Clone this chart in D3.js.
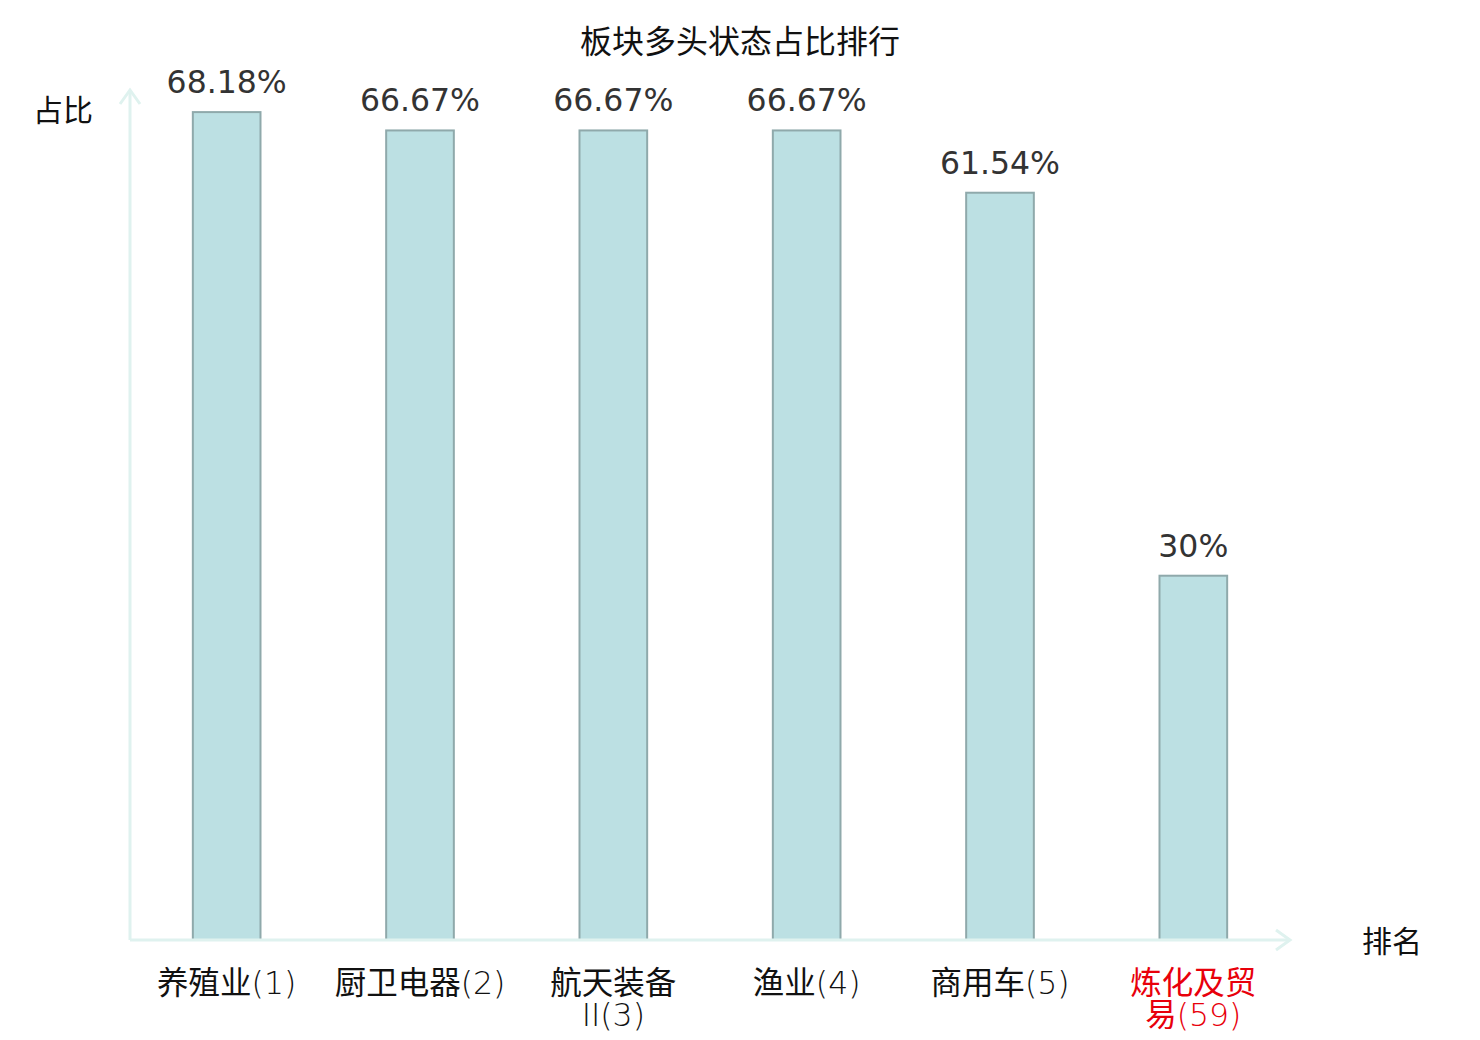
<!DOCTYPE html>
<html>
<head>
<meta charset="utf-8">
<script src="https://cdn.jsdelivr.net/npm/d3@7"></script>
<style>
  body { margin: 0; background: #fff; }
  svg { display: block; }
</style>
</head>
<body>
<svg id="chart" width="1480" height="1040"></svg>
<script>
// data
const categories = ["养殖业(1)", "厨卫电器(2)", "航天装备II(3)", "渔业(4)", "商用车(5)", "炼化及贸易(59)"];
const values = [68.18, 66.67, 66.67, 66.67, 61.54, 30];
const valueLabels = ["68.18%", "66.67%", "66.67%", "66.67%", "61.54%", "30%"];
const highlight = ["炼化及贸易(59)"];

const svg = d3.select("#chart");
const cjk = "'Noto Sans CJK SC', 'DejaVu Sans', sans-serif";
const latin = "'DejaVu Sans', sans-serif";
const axisColor = "#dff2ef";
const labelSize = "31.5px";

const x = d3.scaleBand().domain(categories).range([130, 1290]).paddingInner(0.65).paddingOuter(0.325);
const y = d3.scaleLinear().domain([0, 70]).range([940, 90]);

// title
svg.append("text")
  .attr("x", 740).attr("y", 53)
  .attr("text-anchor", "middle")
  .style("font-family", cjk).style("font-size", "32px").attr("fill", "#111")
  .text("板块多头状态占比排行");

// bars
svg.selectAll("rect.bar")
  .data(values)
  .enter()
  .append("rect")
  .attr("class", "bar")
  .attr("x", (d, i) => x(categories[i]))
  .attr("y", d => y(d))
  .attr("width", x.bandwidth())
  .attr("height", d => y(0) - y(d))
  .attr("fill", "#bce0e3")
  .attr("stroke", "#8fa9ab")
  .attr("stroke-width", 2);

// value labels
svg.selectAll("text.val")
  .data(values)
  .enter()
  .append("text")
  .attr("class", "val")
  .attr("x", (d, i) => x(categories[i]) + x.bandwidth() / 2)
  .attr("y", d => y(d) - 19)
  .attr("text-anchor", "middle")
  .style("font-family", latin).style("font-size", "31.5px")
  .attr("fill", "#333")
  .text((d, i) => valueLabels[i]);

// axes
const axes = svg.append("g").attr("stroke", axisColor).attr("stroke-width", 3).attr("fill", "none");
axes.append("line").attr("x1", 130).attr("y1", y(0)).attr("x2", 130).attr("y2", 90);
axes.append("path").attr("d", `M120,104 L130,90 L140,104`);
axes.append("line").attr("x1", 130).attr("y1", y(0)).attr("x2", 1290).attr("y2", y(0));
axes.append("path").attr("d", `M1276,${y(0) - 10} L1290,${y(0)} L1276,${y(0) + 10}`);

svg.append("text")
  .attr("x", 63).attr("y", 121)
  .attr("text-anchor", "middle")
  .style("font-family", cjk).style("font-size", "30px").attr("fill", "#111")
  .text("占比");

svg.append("text")
  .attr("x", 1392).attr("y", 952)
  .attr("text-anchor", "middle")
  .style("font-family", cjk).style("font-size", "30px").attr("fill", "#111")
  .text("排名");

// category labels: CJK in Noto, latin part in thin DejaVu, wrapped by word
const isCjk = c => /[\u3400-\u9fff]/.test(c);
const styleRun = (sel, c) => sel
  .style("font-family", isCjk(c) ? cjk : latin)
  .style("font-weight", isCjk(c) ? 400 : 200);

const probe = svg.append("text").style("font-size", labelSize);
const textW = s => {
  styleRun(probe, s[0]).text(s);
  return probe.node().getComputedTextLength();
};

// split into words: single CJK chars, latin runs; an opening bracket sticks to the CJK char before it
function tokens(s) {
  const out = [];
  Array.from(s).forEach(c => {
    const last = out[out.length - 1];
    const lastC = last ? last[last.length - 1] : null;
    if (!last || isCjk(c)) out.push(c);
    else if (isCjk(lastC) && c !== "(") out.push(c);
    else out[out.length - 1] = last + c;
  });
  return out;
}

// group a string into same-font runs
const runs = s => s.match(/[\u3400-\u9fff]+|[^\u3400-\u9fff]+/g) || [];

const maxW = x.step() * 0.9;
categories.forEach(cat => {
  const lines = [""];
  let w = 0;
  tokens(cat).forEach(tok => {
    const tw = d3.sum(runs(tok), textW);
    if (w + tw > maxW && lines[lines.length - 1].length) {
      lines.push("");
      w = 0;
    }
    lines[lines.length - 1] += tok;
    w += tw;
  });

  const cx = x(cat) + x.bandwidth() / 2;
  lines.forEach((line, li) => {
    const t = svg.append("text")
      .attr("x", cx)
      .attr("y", 994 + li * 32)
      .attr("text-anchor", "middle")
      .style("font-size", labelSize)
      .attr("fill", highlight.includes(cat) ? "#e8000b" : "#111");
    runs(line).forEach(r => styleRun(t.append("tspan"), r[0]).text(r));
  });
});
probe.remove();
</script>
</body>
</html>
